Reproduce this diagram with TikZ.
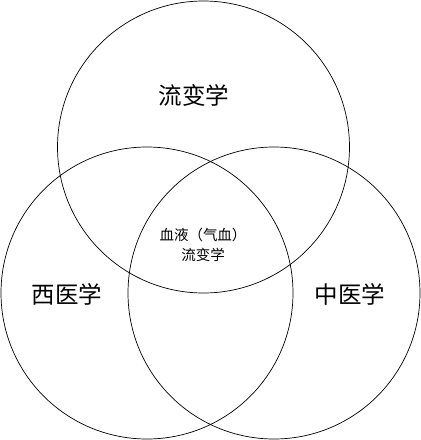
\documentclass[tikz,border=0pt]{standalone}
\usepackage{fontspec}
\newfontfamily\cjk{Noto Sans CJK SC}
\usetikzlibrary{positioning}

\begin{document}
\begin{tikzpicture}[
    x=1pt, y=-1pt,
    field/.style={circle, draw=black, line width=0.7pt, minimum size=292pt, inner sep=0pt},
    biglabel/.style={font=\cjk\fontsize{23.5}{26}\selectfont, text=black},
    smalllabel/.style={font=\cjk\fontsize{14.5}{20}\selectfont, text=black, align=center}
]
\useasboundingbox (0,0) rectangle (421,440);

% Circles
\node[field] (rheo) at (203.5,147) {};
\node[field] (west) at (147,293) {};
\node[field] (tcm) at (274,293) {};

% Labels
\node[biglabel] (rheolabel) at (194,95) {流变学};
\node[biglabel] (westlabel) at (67,294) {西医学};
\node[biglabel] (tcmlabel) at (350,294) {中医学};

% Centre
\node[smalllabel] (centre) at (203,245) {血液（气血）\\流变学};

\end{tikzpicture}
\end{document}
